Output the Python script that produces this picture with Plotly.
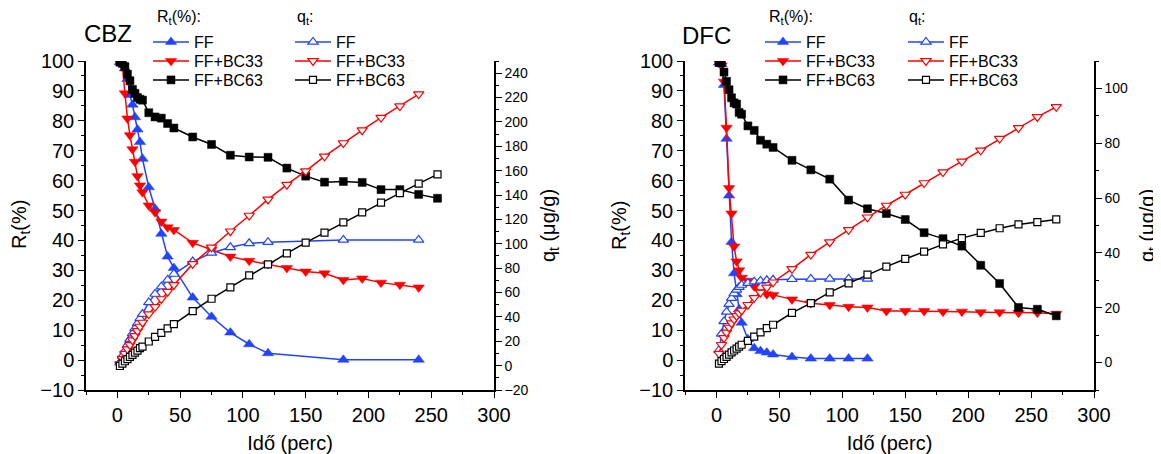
import plotly.graph_objects as go

# time points (perc)
t_early = [2, 4, 6, 8, 10, 12, 14, 16, 18, 20, 25, 30, 35, 40, 45]
t_cbz_ff = t_early + [60, 75, 90, 105, 120, 180, 240]
t_cbz_bc33 = t_early + [60, 75, 90, 105, 120, 135, 150, 165, 180, 195, 210, 225, 240]
t_cbz_bc63 = t_early + [60, 75, 90, 105, 120, 135, 150, 165, 180, 195, 210, 225, 240, 255]
t_dfc_ff = t_early + [60, 75, 90, 105, 120]
t_dfc_bc = t_early + [60, 75, 90, 105, 120, 135, 150, 165, 180, 195, 210, 225, 240, 255, 270]

# CBZ: removal R_t (%) and uptake q_t (ug/g)
R_cbz_ff = [99.6, 99.3, 97.5, 94.0, 88.6, 85.4, 81.2, 77.1, 72.9, 67.3,
            57.8, 50.6, 42.2, 34.6, 30.8, 20.9, 14.5, 9.2, 5.3, 2.3, 0.1, 0.1]
R_cbz_bc33 = [99.6, 98.5, 89.2, 80.8, 75.2, 70.5, 66.3, 61.5, 58.4, 56.1,
              51.7, 49.4, 46.3, 44.4, 43.5, 39.2, 36.9, 34.6, 33.2, 32.1,
              30.8, 29.6, 29.0, 26.8, 27.3, 25.9, 25.2, 24.3]
R_cbz_bc63 = [99.6, 99.2, 98.1, 95.6, 93.4, 90.5, 89.2, 87.8, 87.2, 86.9,
              82.7, 81.3, 80.9, 79.1, 77.6, 74.6, 72.1, 68.5, 67.9, 67.8,
              64.2, 61.5, 59.5, 59.7, 59.4, 57.0, 57.0, 55.4, 54.1]
q_cbz_ff = [2.5, 8.0, 12.1, 17.0, 21.7, 26.3, 30.5, 34.6, 38.7, 42.3,
            51.9, 58.8, 64.8, 70.3, 75.2, 85.4, 92.5, 97.1, 100.4, 101.3, 103.2, 103.2]
q_cbz_bc33 = [1.2, 5.8, 9.9, 13.5, 17.0, 20.9, 24.4, 28.6, 32.1, 35.4,
              42.3, 48.3, 54.7, 60.7, 66.2, 83.5, 97.1, 110.3, 123.2, 136.4,
              148.5, 159.7, 171.8, 182.7, 193.2, 203.6, 213.0, 222.8]
q_cbz_bc63 = [-0.3, 1.6, 3.6, 5.3, 7.2, 8.8, 10.7, 12.3, 14.3, 15.6,
              19.8, 23.6, 26.9, 30.5, 34.1, 44.8, 54.9, 64.2, 74.1, 83.1,
              92.2, 101.0, 109.2, 117.5, 125.7, 133.7, 141.6, 149.3, 157.0]

# DFC
R_dfc_ff = [99.5, 99.0, 92.0, 74.0, 55.0, 39.5, 29.0, 22.0, 17.0, 12.5,
            7.0, 4.0, 3.0, 2.5, 1.9, 1.0, 0.5, 0.5, 0.5, 0.5]
R_dfc_bc33 = [99.5, 98.5, 93.1, 77.7, 57.5, 49.0, 38.0, 33.0, 30.0, 27.5,
              26.5, 24.6, 22.8, 22.0, 21.8, 20.3, 19.0, 18.4, 17.8, 17.6,
              16.4, 16.4, 16.4, 16.2, 16.2, 16.0, 16.0, 15.8, 15.8, 15.5]
R_dfc_bc63 = [99.5, 99.4, 96.3, 93.2, 90.4, 87.7, 86.0, 85.6, 82.8, 82.2,
              78.3, 76.8, 73.5, 72.2, 71.1, 66.8, 63.6, 60.5, 53.5, 50.6,
              49.0, 47.0, 42.6, 40.6, 38.1, 31.7, 25.6, 17.6, 17.0, 14.8]
q_dfc_ff = [4.5, 10.5, 15.0, 18.5, 21.3, 23.5, 25.2, 26.5, 27.5, 28.3,
            29.0, 29.5, 29.8, 30.0, 30.2, 30.4, 30.5, 30.5, 30.5, 30.5]
q_dfc_bc33 = [3.3, 6.5, 9.0, 11.0, 12.8, 14.4, 15.8, 17.0, 18.0, 19.0,
              21.1, 23.6, 25.6, 27.4, 29.3, 34.2, 39.4, 43.9, 48.4, 53.0,
              57.3, 61.3, 65.5, 69.5, 73.4, 77.4, 81.7, 85.6, 89.6, 93.3]
q_dfc_bc63 = [-0.4, 0.5, 1.3, 2.1, 2.9, 3.7, 4.4, 5.1, 5.8, 6.5,
              7.9, 9.5, 11.0, 12.6, 13.8, 18.1, 21.7, 25.6, 28.9, 32.1,
              35.0, 37.8, 40.5, 43.1, 45.4, 47.3, 49.0, 50.4, 51.2, 52.2]

names = ["FF", "FF+BC33", "FF+BC63"]
colors = ["#2244ff", "#ff0000", "#000000"]
symbols = ["triangle-up", "triangle-down", "square"]
size_R = [10, 10, 8]
size_q = [9, 9, 7]

FONT = "Liberation Sans, Arial, sans-serif"
# the page body has an 8px margin, so the figure is drawn 8px smaller and
# all positions below are given in screenshot pixels, then converted
OFF = 8
SW, SH = 1161, 454
W, H = SW - OFF, SH - OFF


def px_x(px):
    return (px - OFF) / W


def px_y(py):
    return (SH - py) / H


panels = [
    dict(xa="x", ya="y", ya2="y2",
         t=[t_cbz_ff, t_cbz_bc33, t_cbz_bc63],
         R=[R_cbz_ff, R_cbz_bc33, R_cbz_bc63],
         q=[q_cbz_ff, q_cbz_bc33, q_cbz_bc63],
         leg_R=155, leg_q=297),
    dict(xa="x2", ya="y3", ya2="y4",
         t=[t_dfc_ff, t_dfc_bc, t_dfc_bc],
         R=[R_dfc_ff, R_dfc_bc33, R_dfc_bc63],
         q=[q_dfc_ff, q_dfc_bc33, q_dfc_bc63],
         leg_R=767, leg_q=910),
]
row_y = [42, 61, 80]

fig = go.Figure()
legends = {}
n = 0


def leg_key(i):
    return "legend" if i == 1 else f"legend{i}"


# one small legend per trace so the rows can sit tight like the original
for p in panels:
    for i in range(3):
        n += 1
        fig.add_trace(go.Scatter(
            x=p["t"][i], y=p["R"][i], xaxis=p["xa"], yaxis=p["ya"],
            mode="lines+markers", name=names[i], legend=leg_key(n),
            line=dict(color=colors[i], width=1.5),
            marker=dict(symbol=symbols[i], size=size_R[i], color=colors[i],
                        line=dict(color=colors[i], width=0.5)),
        ))
        legends[leg_key(n)] = (p["leg_R"], row_y[i])
    for i in range(3):
        n += 1
        fig.add_trace(go.Scatter(
            x=p["t"][i], y=p["q"][i], xaxis=p["xa"], yaxis=p["ya2"],
            mode="lines+markers", name=names[i], legend=leg_key(n),
            line=dict(color=colors[i], width=1.5),
            marker=dict(symbol=symbols[i], size=size_q[i], color="white",
                        line=dict(color=colors[i], width=1.2)),
        ))
        legends[leg_key(n)] = (p["leg_q"], row_y[i])

for key, (px, py) in legends.items():
    fig.update_layout({key: dict(
        x=px_x(px - 7), y=px_y(py), xanchor="left", yanchor="middle",
        bgcolor="rgba(0,0,0,0)", borderwidth=0, itemwidth=36,
        font=dict(family=FONT, size=16, color="black"),
    )})

ydom = [px_y(390), px_y(61)]
ax_common = dict(showline=True, linecolor="black", linewidth=1.5, ticks="outside",
                 ticklen=6, tickwidth=1.2, tickcolor="black", showgrid=False,
                 zeroline=False, mirror=False, automargin=False)
xa = dict(ax_common, range=[-25, 300], tick0=0, dtick=50,
          minor=dict(ticks="outside", ticklen=3, dtick=25, tick0=0, tickcolor="black"),
          tickfont=dict(family=FONT, size=20, color="black"),
          title=dict(text="Idő (perc)", font=dict(family=FONT, size=20, color="black")))
ya = dict(ax_common, range=[-10, 100], tick0=0, dtick=10, domain=ydom,
          minor=dict(ticks="outside", ticklen=3, dtick=5, tick0=0, tickcolor="black"),
          tickfont=dict(family=FONT, size=20, color="black"))
yq = dict(ax_common, tick0=0, dtick=20, side="right",
          minor=dict(ticks="outside", ticklen=3, dtick=10, tick0=0, tickcolor="black"),
          tickfont=dict(family=FONT, size=14, color="black"),
          title=dict(text="q<sub>t</sub> (μg/g)", font=dict(family=FONT, size=20, color="black")))

fig.update_layout(
    template="none",
    width=W, height=H,
    margin=dict(l=0, r=0, t=0, b=0),
    paper_bgcolor="white", plot_bgcolor="white",
    font=dict(family=FONT, color="black"),
    showlegend=True,
    xaxis=dict(xa, domain=[px_x(86), px_x(494)], anchor="y"),
    yaxis=dict(ya, anchor="x"),
    yaxis2=dict(yq, range=[-20, 250], overlaying="y", anchor="x"),
    xaxis2=dict(xa, domain=[px_x(685), px_x(1094)], anchor="y3"),
    yaxis3=dict(ya, anchor="x2"),
    yaxis4=dict(yq, range=[-10, 110], overlaying="y3", anchor="x2"),
)

# panel titles and legend headers
for txt, x, y, size in [("CBZ", 82, 33, 24), ("DFC", 680, 36, 24),
                        ("R<sub>t</sub>(%):", 155, 18, 16), ("q<sub>t</sub>:", 295, 18, 16),
                        ("R<sub>t</sub>(%):", 767, 18, 16), ("q<sub>t</sub>:", 907, 18, 16)]:
    fig.add_annotation(x=px_x(x), y=px_y(y), xref="paper", yref="paper",
                       text=txt, showarrow=False, xanchor="left", yanchor="middle",
                       font=dict(family=FONT, size=size, color="black"))

# left y-axis titles (placed by hand, as in the original)
for x in (21, 621):
    fig.add_annotation(x=px_x(x), y=px_y(225), xref="paper", yref="paper",
                       text="R<sub>t</sub>(%)", showarrow=False, textangle=-90,
                       xanchor="center", yanchor="middle",
                       font=dict(family=FONT, size=20, color="black"))

fig.write_html("out.html")
